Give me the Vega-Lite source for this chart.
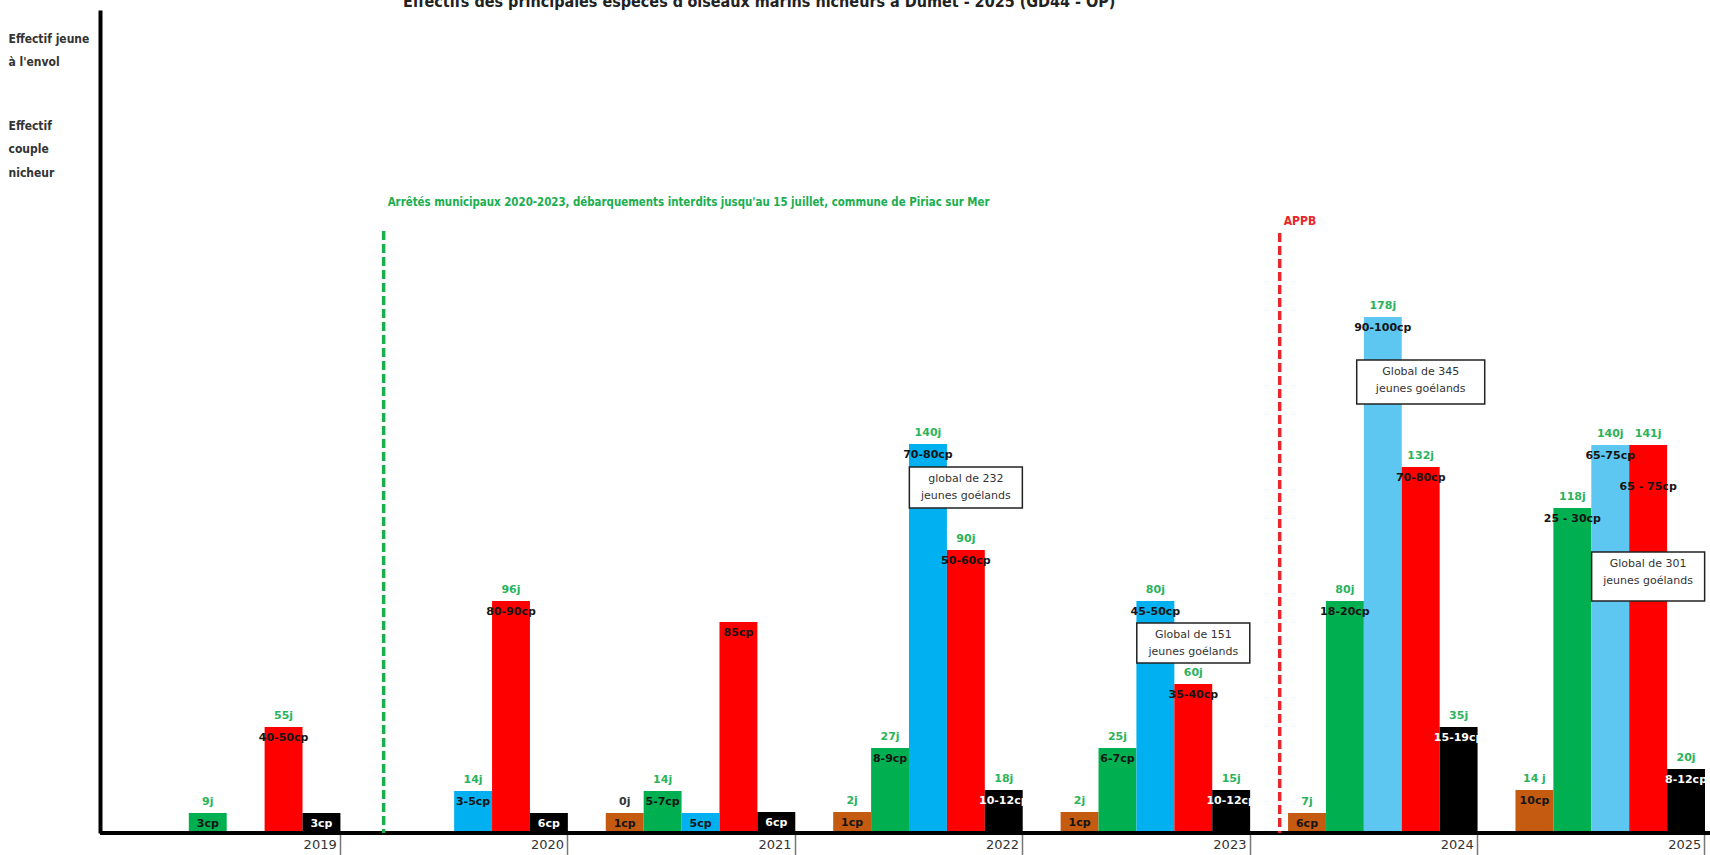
{
  "$schema": "https://vega.github.io/schema/vega-lite/v6.json",
  "width": 1610,
  "height": 823,
  "autosize": {"type": "none"},
  "padding": {"left": 100, "top": 10, "right": 0, "bottom": 22},
  "background": "white",
  "title": {
    "text": "Effectifs des principales espèces d'oiseaux marins nicheurs à Dumet - 2025 (GD44 - OP)",
    "anchor": "start",
    "frame": "group",
    "offset": 0,
    "baseline": "top",
    "dx": 303,
    "font": "Liberation Sans Narrow, DejaVu Sans Condensed, Arial Narrow, sans-serif",
    "fontSize": 16,
    "fontWeight": "bold",
    "color": "#222"
  },
  "config": {"view": {"stroke": null}, "axis": {"grid": false}},
  "datasets": {
    "bars": [
      {"year": "2019", "species": "green", "h": 20, "j": "9j", "cp": "3cp"},
      {"year": "2019", "species": "red", "h": 106, "j": "55j", "cp": "40-50cp"},
      {"year": "2019", "species": "black", "h": 20, "j": "", "cp": "3cp"},
      {"year": "2020", "species": "blue", "h": 42, "j": "14j", "cp": "3-5cp"},
      {"year": "2020", "species": "red", "h": 232, "j": "96j", "cp": "80-90cp"},
      {"year": "2020", "species": "black", "h": 20, "j": "", "cp": "6cp"},
      {"year": "2021", "species": "brown", "h": 20, "j": "0j", "cp": "1cp"},
      {"year": "2021", "species": "green", "h": 42, "j": "14j", "cp": "5-7cp"},
      {"year": "2021", "species": "blue", "h": 20, "j": "", "cp": "5cp"},
      {"year": "2021", "species": "red", "h": 211, "j": "", "cp": "85cp"},
      {"year": "2021", "species": "black", "h": 21, "j": "", "cp": "6cp"},
      {"year": "2022", "species": "brown", "h": 21, "j": "2j", "cp": "1cp"},
      {"year": "2022", "species": "green", "h": 85, "j": "27j", "cp": "8-9cp"},
      {"year": "2022", "species": "blue", "h": 389, "j": "140j", "cp": "70-80cp"},
      {"year": "2022", "species": "red", "h": 283, "j": "90j", "cp": "50-60cp"},
      {"year": "2022", "species": "black", "h": 43, "j": "18j", "cp": "10-12cp"},
      {"year": "2023", "species": "brown", "h": 21, "j": "2j", "cp": "1cp"},
      {"year": "2023", "species": "green", "h": 85, "j": "25j", "cp": "6-7cp"},
      {"year": "2023", "species": "blue", "h": 232, "j": "80j", "cp": "45-50cp"},
      {"year": "2023", "species": "red", "h": 149, "j": "60j", "cp": "35-40cp"},
      {"year": "2023", "species": "black", "h": 43, "j": "15j", "cp": "10-12cp"},
      {"year": "2024", "species": "brown", "h": 20, "j": "7j", "cp": "6cp"},
      {"year": "2024", "species": "green", "h": 232, "j": "80j", "cp": "18-20cp"},
      {"year": "2024", "species": "blue", "h": 516, "j": "178j", "cp": "90-100cp"},
      {"year": "2024", "species": "red", "h": 366, "j": "132j", "cp": "70-80cp"},
      {"year": "2024", "species": "black", "h": 106, "j": "35j", "cp": "15-19cp"},
      {"year": "2025", "species": "brown", "h": 43, "j": "14 j", "cp": "10cp"},
      {"year": "2025", "species": "green", "h": 325, "j": "118j", "cp": "25 - 30cp"},
      {"year": "2025", "species": "blue", "h": 388, "j": "140j", "cp": "65-75cp"},
      {"year": "2025", "species": "red", "h": 388, "j": "141j", "cp": "65 - 75cp"},
      {"year": "2025", "species": "black", "h": 64, "j": "20j", "cp": "8-12cp"}
    ],
    "markers": [
      {"year": "2020", "kind": "arrete", "top": 602, "text": "Arrêtés municipaux 2020-2023, débarquements interdits jusqu'au 15 juillet, commune de Piriac sur Mer"},
      {"year": "2024", "kind": "appb", "top": 600, "text": "APPB"}
    ],
    "boxes": [
      {"year": "2022", "top": 366, "bottom": 325, "t": "global de 232\njeunes goélands"},
      {"year": "2023", "top": 210, "bottom": 170, "t": "Global de 151\njeunes goélands"},
      {"year": "2024", "top": 473, "bottom": 429, "t": "Global de 345\njeunes goélands"},
      {"year": "2025", "top": 281, "bottom": 232, "t": "Global de 301\njeunes goélands"}
    ]
  },
  "layer": [
    {
      "data": {"name": "bars"},
      "mark": {"type": "bar"},
      "encoding": {
        "x": {
          "field": "year", "type": "ordinal",
          "scale": {"domain": ["2019", "2020", "2021", "2022", "2023", "2024", "2025"], "range": [13, 1605], "paddingInner": 0, "paddingOuter": 0},
          "axis": {
            "title": null, "domain": false, "ticks": true, "tickSize": 22, "tickColor": "#777", "tickWidth": 1.5,
            "bandPosition": 1, "labelAngle": 0, "labelAlign": "right", "labelBaseline": "top", "labelPadding": -17, "labelOffset": 110,
            "labelFont": "DejaVu Sans", "labelFontSize": 13, "labelColor": "#333"
          }
        },
        "xOffset": {
          "field": "species", "type": "nominal",
          "scale": {"domain": ["gap", "brown", "green", "blue", "red", "black"], "paddingInner": 0, "paddingOuter": 0}
        },
        "y": {
          "field": "h", "type": "quantitative",
          "scale": {"domain": [0, 823], "nice": false, "zero": true},
          "axis": {
            "title": null, "domain": true, "domainColor": "black", "domainWidth": 4, "ticks": false, "tickSize": 0,
            "values": [795, 708],
            "labelExpr": "datum.value > 750 ? ['Effectif jeune', \"à l'envol\"] : ['Effectif', 'couple', 'nicheur']",
            "labelAlign": "left", "labelBaseline": "middle", "labelPadding": 92, "labelLineHeight": 23.5,
            "labelFont": "Liberation Sans Narrow, DejaVu Sans Condensed, Arial Narrow, sans-serif",
            "labelFontSize": 12, "labelFontWeight": "bold", "labelColor": "#333",
            "labelOverlap": false, "labelBound": false, "labelFlush": false
          }
        },
        "color": {
          "condition": {"test": "datum.species === 'blue' && datum.year >= '2024'", "value": "#5DC7F2"},
          "field": "species", "type": "nominal",
          "scale": {"domain": ["brown", "green", "blue", "red", "black"], "range": ["#C55A11", "#00B050", "#00B0F0", "#FF0000", "#000000"]},
          "legend": null
        }
      }
    },
    {
      "data": {"values": [{}]},
      "mark": {"type": "rule", "color": "black", "strokeWidth": 4},
      "encoding": {"y": {"datum": 0}}
    },
    {
      "data": {"name": "bars"},
      "mark": {"type": "text", "baseline": "middle", "dy": -11, "font": "DejaVu Sans", "fontSize": 11, "fontWeight": "bold"},
      "encoding": {
        "x": {"field": "year", "type": "ordinal"},
        "xOffset": {"field": "species", "type": "nominal"},
        "y": {"field": "h", "type": "quantitative"},
        "text": {"field": "j"},
        "color": {"condition": {"test": "datum.j === '0j'", "value": "#333"}, "value": "#2BB35B"}
      }
    },
    {
      "data": {"name": "bars"},
      "transform": [{"filter": "!(datum.year === '2025' && datum.species === 'red')"}],
      "mark": {"type": "text", "baseline": "middle", "dy": 11, "font": "DejaVu Sans", "fontSize": 11, "fontWeight": "bold"},
      "encoding": {
        "x": {"field": "year", "type": "ordinal"},
        "xOffset": {"field": "species", "type": "nominal"},
        "y": {"field": "h", "type": "quantitative"},
        "text": {"field": "cp"},
        "color": {"condition": {"test": "datum.species === 'black'", "value": "#FFFFFF"}, "value": "#151515"}
      }
    },
    {
      "data": {"name": "bars"},
      "transform": [{"filter": "datum.year === '2025' && datum.species === 'red'"}],
      "mark": {"type": "text", "baseline": "middle", "dy": 42, "font": "DejaVu Sans", "fontSize": 11, "fontWeight": "bold", "color": "#151515"},
      "encoding": {
        "x": {"field": "year", "type": "ordinal"},
        "xOffset": {"field": "species", "type": "nominal"},
        "y": {"field": "h", "type": "quantitative"},
        "text": {"field": "cp"}
      }
    },
    {
      "data": {"name": "markers"},
      "transform": [{"filter": "datum.kind === 'arrete'"}],
      "mark": {"type": "rule", "strokeDash": [9, 4], "strokeWidth": 3.5, "color": "#1AAE4F"},
      "encoding": {
        "x": {"field": "year", "type": "ordinal", "bandPosition": 0.19},
        "y": {"field": "top", "type": "quantitative"},
        "y2": {"datum": 0}
      }
    },
    {
      "data": {"name": "markers"},
      "transform": [{"filter": "datum.kind === 'appb'"}],
      "mark": {"type": "rule", "strokeDash": [9, 4], "strokeWidth": 3.5, "color": "#E8262B"},
      "encoding": {
        "x": {"field": "year", "type": "ordinal", "bandPosition": 0.13},
        "y": {"field": "top", "type": "quantitative"},
        "y2": {"datum": 0}
      }
    },
    {
      "data": {"name": "markers"},
      "transform": [{"filter": "datum.kind === 'arrete'"}],
      "mark": {"type": "text", "align": "left", "baseline": "middle", "dx": 4, "dy": -28, "font": "Liberation Sans Narrow, DejaVu Sans Condensed, Arial Narrow, sans-serif", "fontSize": 11.4, "fontWeight": "bold", "color": "#1AAE4F"},
      "encoding": {
        "x": {"field": "year", "type": "ordinal", "bandPosition": 0.19},
        "y": {"field": "top", "type": "quantitative"},
        "text": {"field": "text"}
      }
    },
    {
      "data": {"name": "markers"},
      "transform": [{"filter": "datum.kind === 'appb'"}],
      "mark": {"type": "text", "align": "left", "baseline": "middle", "dx": 4, "dy": -12, "font": "Liberation Sans Narrow, DejaVu Sans Condensed, Arial Narrow, sans-serif", "fontSize": 12, "fontWeight": "bold", "color": "#E8262B"},
      "encoding": {
        "x": {"field": "year", "type": "ordinal", "bandPosition": 0.13},
        "y": {"field": "top", "type": "quantitative"},
        "text": {"field": "text"}
      }
    },
    {
      "data": {"name": "boxes"},
      "mark": {"type": "bar", "fill": "white", "stroke": "#222", "strokeWidth": 1.5},
      "encoding": {
        "x": {"field": "year", "type": "ordinal"},
        "xOffset": {"datum": "red"},
        "y": {"field": "top", "type": "quantitative"},
        "y2": {"field": "bottom"},
        "size": {"condition": {"test": "datum.year === '2024'", "value": 128}, "value": 113}
      }
    },
    {
      "data": {"name": "boxes"},
      "mark": {"type": "text", "baseline": "middle", "dy": 12, "lineBreak": "\n", "lineHeight": 17, "font": "DejaVu Sans", "fontSize": 11, "color": "#333"},
      "encoding": {
        "x": {"field": "year", "type": "ordinal"},
        "xOffset": {"datum": "red"},
        "y": {"field": "top", "type": "quantitative"},
        "text": {"field": "t"}
      }
    }
  ]
}
